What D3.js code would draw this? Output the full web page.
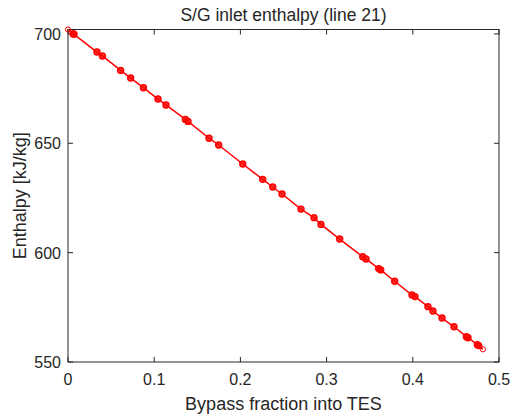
<!DOCTYPE html>
<html>
  <head>
    <script src="https://d3js.org/d3.v7.min.js"></script>
    <style>
      body { margin: 0; background: #fff; }
      text { font-family: "Liberation Sans", Arial, sans-serif; fill: #262626; }
    </style>
  </head>
  <body>
    <div id="chart"></div>
    <script>
      // bypass fraction into TES
      const bypass = [0, 0.0058, 0.007, 0.0336, 0.0399, 0.0611, 0.0727, 0.0875,
        0.1044, 0.1137, 0.1362, 0.1392, 0.1636, 0.1748, 0.2027, 0.2259, 0.2375,
        0.2483, 0.2703, 0.2854, 0.2935, 0.3152, 0.3419, 0.3457, 0.3604, 0.3628,
        0.379, 0.3991, 0.4026, 0.4176, 0.4234, 0.4339, 0.4478, 0.4622, 0.464,
        0.4749, 0.4764, 0.4814];
      // S/G inlet enthalpy [kJ/kg]
      const enthalpy = [702.0, 700.1, 699.8, 691.7, 689.9, 683.3, 679.8, 675.4,
        670.2, 667.5, 660.9, 660.0, 652.3, 649.2, 640.5, 633.5, 630.0,
        626.8, 619.9, 616.0, 612.9, 606.2, 598.1, 597.1, 592.7, 592.1,
        586.9, 580.6, 579.9, 575.3, 573.3, 570.1, 566.1, 561.6, 561.1,
        557.9, 557.5, 555.8];
      const xTicks = [0, 0.1, 0.2, 0.3, 0.4, 0.5];
      const yTicks = [550, 600, 650, 700];

      const width = 512, height = 414;
      const mLeft = 68, mRight = 499, mTop = 29.5, mBottom = 362;

      const svg = d3.select("#chart").append("svg")
        .attr("width", width).attr("height", height);

      const x = d3.scaleLinear().domain([0, 0.5]).range([mLeft, mRight]);
      const y = d3.scaleLinear().domain([550, 702]).range([mBottom, mTop]);

      const axisColor = "#262626";
      const tickLen = 5;

      // box
      svg.append("rect")
        .attr("x", mLeft).attr("y", mTop)
        .attr("width", mRight - mLeft).attr("height", mBottom - mTop)
        .attr("fill", "none").attr("stroke", axisColor).attr("stroke-width", 1);

      // x ticks (bottom and top, inward)
      xTicks.forEach(t => {
        svg.append("line").attr("x1", x(t)).attr("x2", x(t))
          .attr("y1", mBottom).attr("y2", mBottom - tickLen)
          .attr("stroke", axisColor);
        svg.append("line").attr("x1", x(t)).attr("x2", x(t))
          .attr("y1", mTop).attr("y2", mTop + tickLen)
          .attr("stroke", axisColor);
        svg.append("text").attr("x", x(t)).attr("y", 385)
          .attr("text-anchor", "middle").attr("font-size", 16).text(t);
      });

      yTicks.forEach(t => {
        svg.append("line").attr("x1", mLeft).attr("x2", mLeft + tickLen)
          .attr("y1", y(t)).attr("y2", y(t)).attr("stroke", axisColor);
        svg.append("line").attr("x1", mRight).attr("x2", mRight - tickLen)
          .attr("y1", y(t)).attr("y2", y(t)).attr("stroke", axisColor);
        svg.append("text").attr("x", 61).attr("y", y(t) + 6)
          .attr("text-anchor", "end").attr("font-size", 16).text(t);
      });

      // title and labels
      svg.append("text").attr("x", (mLeft + mRight) / 2).attr("y", 21)
        .attr("text-anchor", "middle").attr("font-size", 17.5)
        .attr("fill", "#000")
        .text("S/G inlet enthalpy (line 21)");
      svg.append("text").attr("x", (mLeft + mRight) / 2).attr("y", 410)
        .attr("text-anchor", "middle").attr("font-size", 18)
        .text("Bypass fraction into TES");
      svg.append("text")
        .attr("transform", `translate(26,${(mTop + mBottom) / 2}) rotate(-90)`)
        .attr("text-anchor", "middle").attr("font-size", 18)
        .text("Enthalpy [kJ/kg]");

      const pts = bypass.map((b, i) => [b, enthalpy[i]]);

      const line = d3.line().x(d => x(d[0])).y(d => y(d[1]));
      svg.append("path").datum(pts)
        .attr("fill", "none").attr("stroke", "#ff0000")
        .attr("stroke-width", 1.5).attr("d", line);

      const isEnd = i => i === 0 || i === pts.length - 1;
      svg.selectAll("circle.m").data(pts).enter().append("circle")
        .attr("class", "m")
        .attr("cx", d => x(d[0])).attr("cy", d => y(d[1]))
        .attr("r", (d, i) => isEnd(i) ? 2.6 : 2.9)
        .attr("fill", (d, i) => isEnd(i) ? "none" : "rgba(255,0,0,0.75)")
        .attr("stroke", "#ff0000")
        .attr("stroke-width", (d, i) => isEnd(i) ? 1 : 1.6);
    </script>
  </body>
</html>
